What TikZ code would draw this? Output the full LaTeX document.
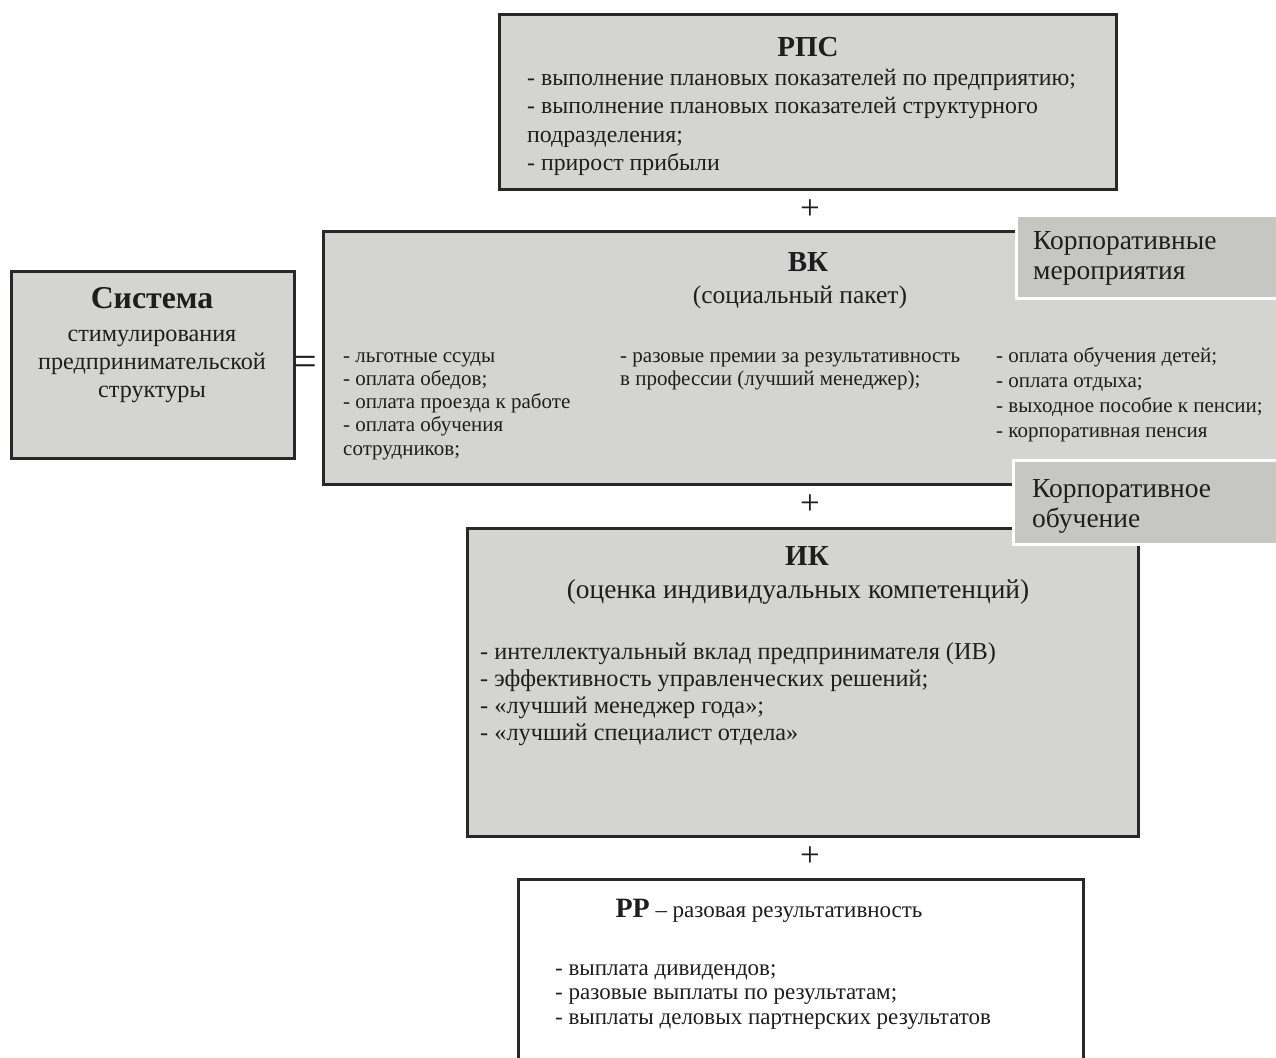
\documentclass[tikz,border=0pt]{standalone}
\usepackage{fontspec}
\setmainfont{Liberation Serif}
\definecolor{boxgray}{RGB}{212,212,209}
\definecolor{corpgray}{RGB}{198,198,195}
\definecolor{ink}{RGB}{30,30,30}
\definecolor{edge}{RGB}{40,40,40}
\begin{document}
\begin{tikzpicture}[x=1pt,y=-1pt,
  box/.style={draw=edge, line width=2.8pt, fill=boxgray, inner sep=0pt, anchor=north west},
  whitebox/.style={box, fill=white},
  corpbox/.style={draw=white, line width=3pt, fill=corpgray, inner sep=0pt, anchor=north west},
  title/.style={text=ink, inner sep=0pt, font=\bfseries\fontsize{29}{32}\selectfont},
  sub/.style={text=ink, inner sep=0pt, font=\fontsize{25.5}{28}\selectfont},
  lastbase/.style={text=ink, inner sep=0pt, anchor=base west, align=left},
  listA/.style={lastbase, font=\fontsize{23.8}{28.5}\selectfont},
  listB/.style={lastbase, font=\fontsize{21}{23.3}\selectfont},
  listC/.style={lastbase, font=\fontsize{21}{25}\selectfont},
  listD/.style={lastbase, font=\fontsize{24.3}{27}\selectfont},
  listE/.style={lastbase, font=\fontsize{23}{24.5}\selectfont},
  corptext/.style={lastbase, font=\fontsize{27.5}{30}\selectfont},
  sign/.style={text=ink, inner sep=0pt, font=\fontsize{35}{35}\selectfont}
]
\useasboundingbox (0,0) rectangle (1276,1057);
\fill[white] (0,0) rectangle (1276,1057);

% boxes
\node[box, minimum width=617pt, minimum height=175pt] (rps) at (498,13) {};
\node[box, minimum width=980pt, minimum height=253pt] (vk) at (322,230) {};
\node[box, minimum width=283pt, minimum height=187pt] (sys) at (10,270) {};
\node[box, minimum width=671pt, minimum height=308pt] (ik) at (466,527) {};
\node[whitebox, minimum width=565pt, minimum height=195pt] (rr) at (517,878) {};
\node[corpbox, minimum width=275pt, minimum height=83pt] (corp1) at (1015,214) {};
\node[corpbox, minimum width=275pt, minimum height=84pt] (corp2) at (1012,459) {};

% RPS
\node[title] (rpsT) at (808,47) {РПС};
\node[listA] (rpsL) at (527,170.5) {- выполнение плановых показателей по предприятию;\\- выполнение плановых показателей структурного\\подразделения;\\- прирост прибыли};

% System
\node[title, font=\bfseries\fontsize{31.8}{34}\selectfont] (sysT) at (152,298) {Система};
\node[text=ink, inner sep=0pt, anchor=base, align=center, font=\fontsize{24.2}{28}\selectfont] (sysL) at (152,397) {стимулирования\\предпринимательской\\структуры};

% VK
\node[title] (vkT) at (808,262) {ВК};
\node[sub] (vkS) at (800,297) {(социальный пакет)};
\node[listB] (vk1) at (343,455.2) {- льготные ссуды\\- оплата обедов;\\- оплата проезда к работе\\- оплата обучения\\сотрудников;};
\node[listB] (vk2) at (620,385.3) {- разовые премии за результативность\\в профессии (лучший менеджер);};
\node[listC] (vk3) at (996,437) {- оплата обучения детей;\\- оплата отдыха;\\- выходное пособие к пенсии;\\- корпоративная пенсия};

% corporate boxes
\node[corptext] (c1) at (1033,279) {Корпоративные\\мероприятия};
\node[corptext] (c2) at (1032,527) {Корпоративное\\обучение};

% IK
\node[title] (ikT) at (807,556) {ИК};
\node[sub, font=\fontsize{27.4}{30}\selectfont] (ikS) at (798,592) {(оценка индивидуальных компетенций)};
\node[listD] (ikL) at (480,740) {- интеллектуальный вклад предпринимателя (ИВ)\\- эффективность управленческих решений;\\- «лучший менеджер года»;\\- «лучший специалист отдела»};

% RR
\node[text=ink, inner sep=0pt, font=\fontsize{23}{26}\selectfont] (rrT) at (769,911) {{\bfseries\fontsize{28}{30}\selectfont РР} – разовая результативность};
\node[listE] (rrL) at (555,1024) {- выплата дивидендов;\\- разовые выплаты по результатам;\\- выплаты деловых партнерских результатов};

% signs
\node[sign, font=\fontsize{42}{42}\selectfont] (eq) at (305,366) {=};
\node[sign] (p1) at (810,210) {+};
\node[sign] (p2) at (810,505) {+};
\node[sign] (p3) at (810,857) {+};
\end{tikzpicture}
\end{document}
